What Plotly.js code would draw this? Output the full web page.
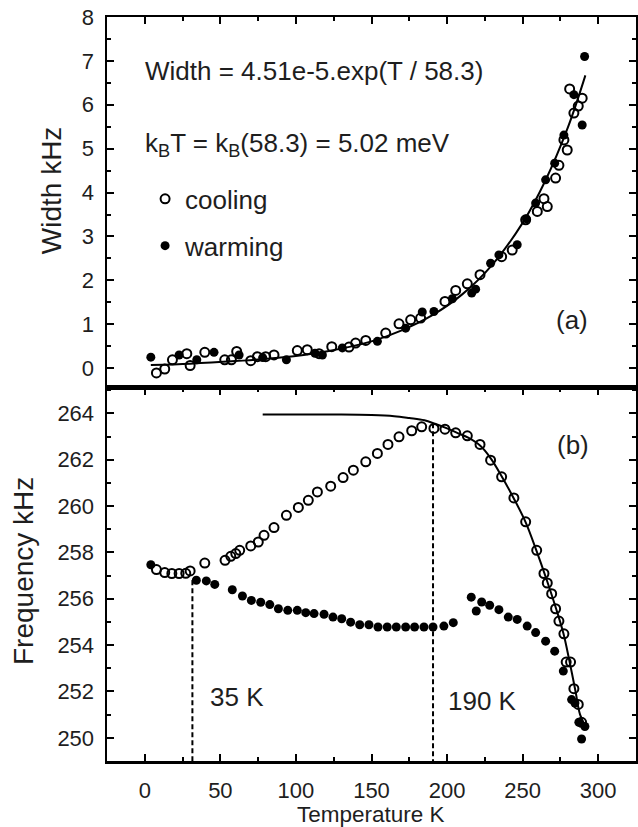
<!DOCTYPE html>
<html>
<head>
<meta charset="utf-8">
<script src="https://cdn.plot.ly/plotly-3.0.1.min.js"></script>
<style>html,body{margin:0;padding:0;background:#fff;}</style>
</head>
<body>
<div id="chart" style="width:638px;height:827px;"></div>
<script>
// ---------- Panel (a): Width vs Temperature ----------
var coolA_T = [7.7, 13.2, 18.3, 27.8, 30.0, 39.7, 52.9, 57.3, 60.8, 70.1, 74.5, 80.0, 85.5, 100.9, 107.5, 115.3, 123.7, 135.1, 139.5, 146.2, 159.4, 168.2, 175.9, 182.5, 198.6, 205.7, 213.4, 221.8, 236.1, 243.1, 252.0, 259.7, 264.1, 266.3, 271.8, 274.0, 277.3, 279.5, 281.1, 283.9, 286.8, 289.4];
var coolA_W = [-0.11, -0.02, 0.19, 0.33, 0.06, 0.36, 0.19, 0.19, 0.38, 0.17, 0.26, 0.26, 0.30, 0.40, 0.42, 0.33, 0.49, 0.48, 0.57, 0.63, 0.80, 1.01, 1.10, 1.14, 1.52, 1.77, 1.92, 2.13, 2.54, 2.69, 3.38, 3.57, 3.86, 3.68, 4.33, 4.62, 5.20, 4.97, 6.36, 5.81, 5.97, 6.15];
var warmA_T = [4.0, 22.7, 34.4, 45.8, 62.4, 78.0, 93.7, 112.6, 117.5, 130.7, 153.9, 172.6, 183.6, 191.3, 203.5, 216.3, 218.9, 228.8, 234.3, 246.4, 252.5, 258.6, 265.2, 271.2, 277.3, 283.9, 289.4, 291.0];
var warmA_W = [0.25, 0.30, 0.19, 0.36, 0.30, 0.24, 0.19, 0.34, 0.30, 0.46, 0.61, 0.91, 1.28, 1.29, 1.58, 1.71, 1.80, 2.39, 2.58, 2.81, 3.40, 3.76, 4.29, 4.67, 5.31, 6.23, 5.54, 7.10];
var fitA_T = [4, 30, 60, 90, 120, 150, 170, 190, 210, 230, 250, 265, 280, 291.5];
var fitA_W = [0.07, 0.10, 0.16, 0.24, 0.38, 0.61, 0.86, 1.20, 1.68, 2.36, 3.31, 4.27, 5.49, 6.67];

// ---------- Panel (b): Frequency vs Temperature ----------
var coolB_T = [7.7, 13.2, 17.9, 22.7, 27.1, 30.0, 39.7, 53.1, 56.9, 60.2, 62.8, 70.1, 75.1, 78.9, 85.5, 93.7, 101.6, 108.2, 114.2, 123.0, 131.2, 138.0, 146.2, 153.9, 160.9, 168.2, 176.6, 183.2, 191.3, 198.6, 205.7, 213.4, 221.8, 228.8, 236.1, 244.2, 252.0, 259.3, 264.1, 266.3, 269.2, 271.8, 274.0, 277.3, 278.8, 281.7, 283.9, 286.8, 289.0];
var coolB_F = [257.26, 257.13, 257.09, 257.09, 257.10, 257.20, 257.54, 257.66, 257.83, 257.95, 258.09, 258.28, 258.45, 258.74, 259.07, 259.60, 259.94, 260.25, 260.61, 260.86, 261.23, 261.55, 261.91, 262.27, 262.66, 262.99, 263.25, 263.42, 263.35, 263.32, 263.16, 263.03, 262.66, 261.98, 261.26, 260.35, 259.32, 258.09, 257.09, 256.68, 256.22, 255.57, 255.04, 254.49, 253.27, 253.27, 252.12, 251.44, 250.67];
var warmB_T = [4.0, 34.1, 40.7, 46.3, 57.9, 64.6, 70.5, 76.7, 82.7, 88.4, 94.6, 100.9, 106.5, 112.0, 118.6, 124.5, 130.3, 136.2, 142.2, 148.3, 154.3, 160.4, 166.4, 172.6, 178.5, 184.7, 190.7, 197.9, 204.1, 216.0, 219.3, 222.9, 228.2, 234.3, 240.5, 246.4, 253.0, 258.6, 265.2, 271.2, 276.9, 282.4, 284.6, 287.2, 289.0, 291.2];
var warmB_F = [257.47, 256.80, 256.77, 256.62, 256.39, 256.12, 255.93, 255.85, 255.75, 255.57, 255.50, 255.50, 255.40, 255.36, 255.33, 255.21, 255.14, 254.99, 254.88, 254.88, 254.78, 254.78, 254.78, 254.78, 254.78, 254.78, 254.78, 254.82, 254.97, 256.07, 255.47, 255.86, 255.72, 255.53, 255.21, 255.11, 254.82, 254.54, 254.17, 253.74, 252.88, 251.65, 251.50, 250.67, 249.95, 250.49];
var fitB_T = [78, 100, 130, 150, 165, 175, 185, 192, 200, 207, 214, 222, 229, 236, 244, 252, 259, 266, 272, 277, 281, 285, 288, 291.5];
var fitB_F = [263.95, 263.95, 263.95, 263.93, 263.88, 263.8, 263.7, 263.55, 263.35, 263.15, 262.95, 262.6, 262.05, 261.3, 260.35, 259.3, 258.1, 256.8, 255.6, 254.5, 253.3, 252.0, 251.0, 250.5];
var mark35_T = [31.5, 31.5];
var mark35_F = [256.8, 249];
var mark190_T = [190.7, 190.7];
var mark190_F = [263.57, 249];

var xTicks = [0, 50, 100, 150, 200, 250, 300];
var yTicksA = [0, 1, 2, 3, 4, 5, 6, 7, 8];
var yTicksB = [250, 252, 254, 256, 258, 260, 262, 264];

var FONT = 'Liberation Sans, Arial, Helvetica, sans-serif';
var TXT = '#1e1e1e';
var MS = 9;

var openMarker = {symbol: 'circle-open', size: MS, color: '#000', line: {width: 2, color: '#000'}};
var fillMarker = {symbol: 'circle', size: MS, color: '#000', line: {width: 0}};

var traces = [
  {x: fitA_T, y: fitA_W, xaxis: 'x2', yaxis: 'y2', mode: 'lines', line: {color: '#000', width: 2, shape: 'spline'}, showlegend: false, hoverinfo: 'skip'},
  {x: coolA_T, y: coolA_W, xaxis: 'x2', yaxis: 'y2', mode: 'markers', marker: openMarker, name: 'cooling', legendgroup: 'c'},
  {x: warmA_T, y: warmA_W, xaxis: 'x2', yaxis: 'y2', mode: 'markers', marker: fillMarker, name: 'warming', legendgroup: 'w'},
  {x: fitB_T, y: fitB_F, xaxis: 'x', yaxis: 'y', mode: 'lines', line: {color: '#000', width: 2, shape: 'spline'}, showlegend: false},
  {x: mark35_T, y: mark35_F, xaxis: 'x', yaxis: 'y', mode: 'lines', line: {color: '#000', width: 2, dash: '5px,3px'}, showlegend: false},
  {x: mark190_T, y: mark190_F, xaxis: 'x', yaxis: 'y', mode: 'lines', line: {color: '#000', width: 2, dash: '5px,3px'}, showlegend: false},
  {x: coolB_T, y: coolB_F, xaxis: 'x', yaxis: 'y', mode: 'markers', marker: openMarker, showlegend: false},
  {x: warmB_T, y: warmB_F, xaxis: 'x', yaxis: 'y', mode: 'markers', marker: fillMarker, showlegend: false}
];

function axisBase() {
  return {
    showgrid: false, zeroline: false, showline: true, linecolor: '#000', linewidth: 2.5,
    ticks: 'inside', ticklen: 7, tickwidth: 2, tickcolor: '#000',
    tickfont: {family: FONT, size: 22, color: TXT}
  };
}

var xB = Object.assign(axisBase(), {
  domain: [0, 1], anchor: 'y', range: [-25, 325], tickvals: xTicks, mirror: 'ticks',
  minor: {tickvals: [-25, 25, 75, 125, 175, 225, 275, 325], ticks: 'inside', ticklen: 4, tickwidth: 2, tickcolor: '#000'},
  ticklabelstandoff: 8
});
var xA = Object.assign(axisBase(), {
  domain: [0, 1], anchor: 'y2', matches: 'x', range: [-25, 325], tickvals: xTicks, side: 'top', mirror: true,
  showticklabels: false,
  minor: {tickvals: [-25, 25, 75, 125, 175, 225, 275, 325], ticks: 'inside', ticklen: 4, tickwidth: 2, tickcolor: '#000'}
});
var yB = Object.assign(axisBase(), {
  domain: [0, 0.5015], anchor: 'x', range: [249, 265.1], tickvals: yTicksB, mirror: 'ticks',
  minor: {dtick: 1, tick0: 249, ticks: 'inside', ticklen: 4, tickwidth: 2, tickcolor: '#000'},
  ticklabelstandoff: 6
});
var yA = Object.assign(axisBase(), {
  domain: [0.5015, 1], anchor: 'x2', range: [-0.45, 8], tickvals: yTicksA, mirror: 'ticks',
  minor: {dtick: 0.5, tick0: 0, ticks: 'inside', ticklen: 4, tickwidth: 2, tickcolor: '#000'},
  ticklabelstandoff: 6
});

function ann(text, x, y, xref, yref, xanchor) {
  return {text: text, x: x, y: y, xref: xref, yref: yref, xanchor: xanchor || 'left', yanchor: 'middle',
          showarrow: false, font: {family: FONT, size: 26, color: TXT}};
}
function axTitle(text, x, y, angle, size) {
  return {text: text, x: x, y: y, xref: 'paper', yref: 'paper', xanchor: 'center', yanchor: 'middle',
          textangle: angle, showarrow: false, borderpad: 0, font: {family: FONT, size: size, color: TXT}};
}

var layout = {
  width: 638, height: 827,
  margin: {l: 107, r: 2, t: 17, b: 66},
  paper_bgcolor: '#fff', plot_bgcolor: '#fff',
  font: {family: FONT, color: TXT},
  showlegend: true,
  legend: {x: 0.072, y: 0.787, xanchor: 'left', yanchor: 'top', bgcolor: 'rgba(0,0,0,0)',
           font: {family: FONT, size: 26, color: TXT}, traceorder: 'grouped', tracegroupgap: 10, itemwidth: 30},
  xaxis: xB, xaxis2: xA, yaxis: yB, yaxis2: yA,
  annotations: [
    axTitle('Width kHz', -0.1045, 0.7668, -90, 28),
    axTitle('Frequency kHz', -0.1569, 0.2554, -90, 28),
    axTitle('Temperature K', 0.4995, -0.0725, 0, 22.5),
    ann('Width = 4.51e-5.exp(T / 58.3)', -1, 6.77, 'x2', 'y2'),
    ann('k<sub>B</sub>T = k<sub>B</sub>(58.3) = 5.02 meV', -1, 5.10, 'x2', 'y2'),
    ann('(a)', 282.6, 1.1, 'x2', 'y2', 'center'),
    ann('(b)', 283.3, 262.63, 'x', 'y', 'center'),
    ann('35 K', 61.3, 251.75, 'x', 'y', 'center'),
    ann('190 K', 223.3, 251.58, 'x', 'y', 'center')
  ]
};

Plotly.newPlot('chart', traces, layout, {staticPlot: true, displayModeBar: false});
</script>
</body>
</html>
